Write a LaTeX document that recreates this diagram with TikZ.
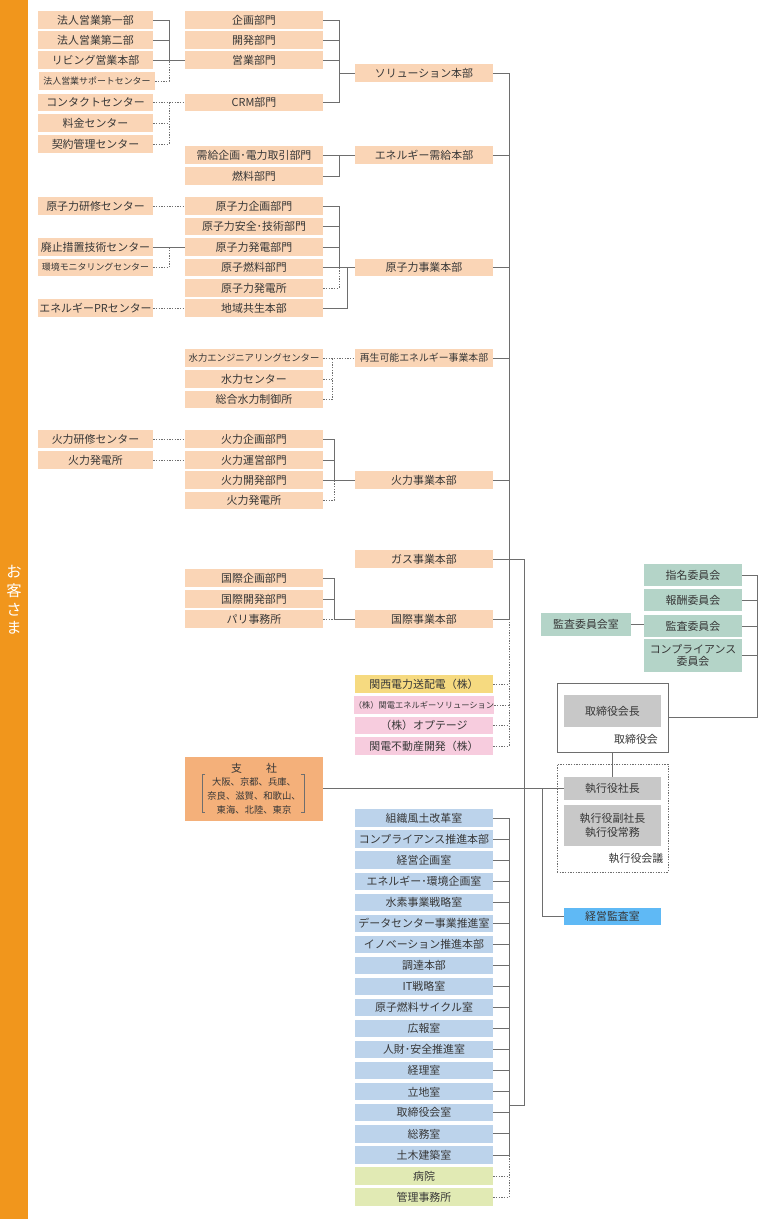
\documentclass[tikz,border=0pt]{standalone}
\usepackage{fontspec}
\setmainfont{Noto Sans CJK JP}
\usetikzlibrary{calc}
\definecolor{peach}{RGB}{250,213,182}
\definecolor{barorange}{RGB}{241,150,28}
\definecolor{branch}{RGB}{244,176,122}
\definecolor{staffblue}{RGB}{188,211,235}
\definecolor{hospgreen}{RGB}{225,234,180}
\definecolor{cmtgreen}{RGB}{180,212,200}
\definecolor{execgray}{RGB}{200,200,200}
\definecolor{auditblue}{RGB}{95,185,245}
\definecolor{subyellow}{RGB}{246,218,128}
\definecolor{subpink}{RGB}{247,204,222}
\definecolor{linegray}{RGB}{110,110,110}
\definecolor{textgray}{RGB}{55,55,55}

\begin{document}
\begin{tikzpicture}[x=0.75pt,y=-0.75pt]
	\tikzstyle{every node}=[inner sep=0pt, text=textgray, font=\fontsize{8.2}{10}\selectfont]
	\tikzstyle{sidebox}=[fill=peach, minimum width=86.25pt, minimum height=13pt]
	\tikzstyle{deptbox}=[fill=peach, minimum width=103.5pt, minimum height=13pt]
	\tikzstyle{staffbox}=[deptbox, fill=staffblue]
	\tikzstyle{hospbox}=[deptbox, fill=hospgreen]
	\tikzstyle{subbox}=[deptbox, fill=subpink]
	\tikzstyle{cmtbox}=[fill=cmtgreen, minimum width=73.5pt, minimum height=16.5pt]
	\tikzstyle{execbox}=[fill=execgray, minimum width=72.75pt, minimum height=17.25pt]
	\tikzstyle{smalltext}=[font=\fontsize{6.7}{8}\selectfont]
	\tikzstyle{conn}=[draw=linegray, line width=0.65pt]
	\tikzstyle{dotconn}=[draw=linegray, line width=0.5pt, dash pattern=on 1pt off 1pt]
	\useasboundingbox (0,0) rectangle (758,1219);
	\fill[barorange] (0,0) rectangle (28,1219);
	\node[text=white, align=center, font=\fontsize{11.5}{14}\selectfont] (okyaku) at (14,600) {お\\客\\さ\\ま};

	\node[sidebox] (houjin1) at (95.5,20) {法人営業第一部};
	\node[sidebox] (houjin2) at (95.5,40) {法人営業第二部};
	\node[sidebox] (living) at (95.5,60) {リビング営業本部};
	\node[sidebox, smalltext, minimum width=87pt] (hsupport) at (97,81) {法人営業サポートセンター};
	\node[sidebox] (contact) at (95.5,102.5) {コンタクトセンター};
	\node[sidebox] (ryokin) at (95.5,123) {料金センター};
	\node[sidebox] (keiyaku) at (95.5,144) {契約管理センター};
	\node[sidebox] (gkenshu) at (95.5,206) {原子力研修センター};
	\node[sidebox] (haishi) at (95.5,247) {廃止措置技術センター};
	\node[sidebox, smalltext] (kankyo) at (95.5,267.5) {環境モニタリングセンター};
	\node[sidebox] (energypr) at (95.5,308) {エネルギーPRセンター};
	\node[sidebox] (kkenshu) at (95.5,439) {火力研修センター};
	\node[sidebox] (kplant) at (95.5,460) {火力発電所};

	\node[deptbox] (kikaku) at (254,20) {企画部門};
	\node[deptbox] (kaihatsu) at (254,40) {開発部門};
	\node[deptbox] (eigyo) at (254,60) {営業部門};
	\node[deptbox] (crm) at (254,102.5) {CRM部門};
	\node[deptbox] (jukyu) at (254,155) {需給企画･電力取引部門};
	\node[deptbox] (nenryo) at (254,176) {燃料部門};
	\node[deptbox] (gkikaku) at (254,206) {原子力企画部門};
	\node[deptbox] (ganzen) at (254,226.5) {原子力安全･技術部門};
	\node[deptbox] (ghatsuden) at (254,247) {原子力発電部門};
	\node[deptbox] (gnenryo) at (254,267.5) {原子燃料部門};
	\node[deptbox] (gplant) at (254,288) {原子力発電所};
	\node[deptbox] (chiiki) at (254,308) {地域共生本部};
	\node[deptbox, font=\fontsize{7}{8}\selectfont] (suiryoku1) at (254,358) {水力エンジニアリングセンター};
	\node[deptbox] (suiryoku2) at (254,379) {水力センター};
	\node[deptbox] (suiryoku3) at (254,399.5) {総合水力制御所};
	\node[deptbox] (karyoku1) at (254,439) {火力企画部門};
	\node[deptbox] (karyoku2) at (254,460) {火力運営部門};
	\node[deptbox] (karyoku3) at (254,480) {火力開発部門};
	\node[deptbox] (karyoku4) at (254,500.5) {火力発電所};
	\node[deptbox] (kokusai1) at (254,578) {国際企画部門};
	\node[deptbox] (kokusai2) at (254,599) {国際開発部門};
	\node[deptbox] (paris) at (254,619) {パリ事務所};
	\node[deptbox, fill=branch, minimum height=48pt, align=center, font=\fontsize{7}{10.3}\selectfont] (shisha) at (254,788.5) {{\fontsize{8.2}{10}\selectfont 支\hspace{2.2em}社}\\大阪、京都、兵庫、\\奈良、滋賀、和歌山、\\東海、北陸、東京};
	\draw[linegray, line width=0.4pt] (205,774) -- (202,774) -- (202,812) -- (205,812);
	\draw[linegray, line width=0.4pt] (301,774) -- (304,774) -- (304,812) -- (301,812);

	\node[deptbox] (solution) at (424,73) {ソリューション本部};
	\node[deptbox] (energy) at (424,155) {エネルギー需給本部};
	\node[deptbox] (genshi) at (424,267.5) {原子力事業本部};
	\node[deptbox, font=\fontsize{7.4}{8}\selectfont] (saisei) at (424,358) {再生可能エネルギー事業本部};
	\node[deptbox] (karyoku) at (424,480) {火力事業本部};
	\node[deptbox] (gas) at (424,559) {ガス事業本部};
	\node[deptbox] (kokusai) at (424,619) {国際事業本部};
	\node[subbox, fill=subyellow] (souhaiden) at (424,684) {関西電力送配電（株）};
	\node[subbox, font=\fontsize{6.2}{8}\selectfont] (kes) at (424,705) {（株）関電エネルギーソリューション};
	\node[subbox] (optage) at (424,725.5) {（株）オプテージ};
	\node[subbox] (fudosan) at (424,746) {関電不動産開発（株）};

	\node[staffbox] (soshiki) at (424,818) {組織風土改革室};
	\node[staffbox] (compsuishin) at (424,839.1) {コンプライアンス推進本部};
	\node[staffbox] (keiei) at (424,860.1) {経営企画室};
	\node[staffbox] (kankyokikaku) at (424,881.2) {エネルギー･環境企画室};
	\node[staffbox] (suiso) at (424,902.2) {水素事業戦略室};
	\node[staffbox] (datacenter) at (424,923.3) {データセンター事業推進室};
	\node[staffbox] (innovation) at (424,944.4) {イノベーション推進本部};
	\node[staffbox] (chotatsu) at (424,965.4) {調達本部};
	\node[staffbox] (itsenryaku) at (424,986.5) {IT戦略室};
	\node[staffbox] (cycle) at (424,1007.5) {原子燃料サイクル室};
	\node[staffbox] (koho) at (424,1028.6) {広報室};
	\node[staffbox] (jinzai) at (424,1049.7) {人財･安全推進室};
	\node[staffbox] (keiri) at (424,1070.7) {経理室};
	\node[staffbox] (ritchi) at (424,1091.8) {立地室};
	\node[staffbox] (torishitsu) at (424,1112.8) {取締役会室};
	\node[staffbox] (somu) at (424,1133.9) {総務室};
	\node[staffbox] (doboku) at (424,1155) {土木建築室};
	\node[hospbox] (byoin) at (424,1176) {病院};
	\node[hospbox] (kanri) at (424,1197) {管理事務所};

	\node[cmtbox, minimum width=67.5pt, minimum height=17.25pt] (iinkaishitsu) at (586,624.5) {監査委員会室};
	\node[cmtbox] (shimei) at (693,575) {指名委員会};
	\node[cmtbox] (hoshu) at (693,600) {報酬委員会};
	\node[cmtbox] (kansa) at (693,626) {監査委員会};
	\node[cmtbox, minimum height=24.75pt, align=center, font=\fontsize{8.2}{9}\selectfont] (compliance) at (693,655.5) {コンプライアンス\\委員会};
	\node[draw=linegray, line width=0.6pt, minimum width=83.25pt, minimum height=51.75pt] (board) at (612.5,717.5) {};
	\node[execbox, minimum height=24pt] (kaicho) at (612.5,711) {取締役会長};
	\node (boardlabel) at (636,739) {取締役会};
	\node[draw=linegray, line width=0.5pt, dash pattern=on 1pt off 1pt, minimum width=83.25pt, minimum height=81pt] (execmeeting) at (612.5,818) {};
	\node[execbox] (shacho) at (612.5,788.5) {執行役社長};
	\node[execbox, minimum height=30.75pt, align=center, font=\fontsize{8.2}{11}\selectfont] (fukushacho) at (612.5,825.5) {執行役副社長\\執行役常務};
	\node (execlabel) at (636,858) {執行役会議};
	\node[execbox, fill=auditblue, minimum height=13pt] (kansashitsu) at (612.5,916.5) {経営監査室};

	\coordinate (hj) at (169,60);
	\coordinate (ct) at (169,102.5);
	\coordinate (hs) at (169,247);
	\coordinate (sol) at (339,73);
	\coordinate (en) at (339,155);
	\coordinate (gn) at (339,267.5);
	\coordinate (gc) at (347,267.5);
	\coordinate (sr) at (332,358);
	\coordinate (kr) at (334,480);
	\coordinate (kk) at (334,619);
	\coordinate (trunktop) at (509,73);
	\coordinate (trunkmid) at (509,619);
	\coordinate (execbot) at (524,1105);
	\coordinate (staffjoin) at (509,1105);
	\coordinate (cb) at (757,575);
	\coordinate (ka) at (542,788.5);

	\draw[conn] (houjin1.east) -| (hj) -- (eigyo.west);
	\draw[conn] (houjin2.east) -- (houjin2.east -| hj);
	\draw[conn] (living.east) -- (hj);
	\draw[dotconn] (hsupport.east) -| (hj);
	\draw[dotconn] (contact.east) -- (crm.west);
	\draw[dotconn] (keiyaku.east) -| (ct);
	\draw[dotconn] (ryokin.east) -- (ryokin.east -| ct);
	\draw[dotconn] (gkenshu.east) -- (gkikaku.west);
	\draw[conn] (haishi.east) -- (ghatsuden.west);
	\draw[dotconn] (kankyo.east) -| (hs);
	\draw[dotconn] (energypr.east) -- (chiiki.west);
	\draw[dotconn] (kkenshu.east) -- (karyoku1.west);
	\draw[dotconn] (kplant.east) -- (karyoku2.west);

	\draw[conn] (kikaku.east) -| (sol) -- (solution.west);
	\draw[conn] (kaihatsu.east) -- (kaihatsu.east -| sol);
	\draw[conn] (eigyo.east) -- (eigyo.east -| sol);
	\draw[conn] (crm.east) -| (sol);
	\draw[conn] (jukyu.east) -- (energy.west);
	\draw[conn] (nenryo.east) -| (en);
	\draw[conn] (gkikaku.east) -| (gn);
	\draw[conn] (ganzen.east) -- (ganzen.east -| gn);
	\draw[conn] (ghatsuden.east) -- (ghatsuden.east -| gn);
	\draw[conn] (gnenryo.east) -- (genshi.west);
	\draw[dotconn] (gplant.east) -| (gn);
	\draw[conn] (chiiki.east) -| (gc);
	\draw[dotconn] (suiryoku1.east) -- (saisei.west);
	\draw[dotconn] (suiryoku2.east) -- (suiryoku2.east -| sr);
	\draw[dotconn] (suiryoku3.east) -| (sr);
	\draw[conn] (karyoku1.east) -| (kr);
	\draw[conn] (karyoku2.east) -- (karyoku2.east -| kr);
	\draw[conn] (karyoku3.east) -- (karyoku.west);
	\draw[dotconn] (karyoku4.east) -| (kr);
	\draw[conn] (kokusai1.east) -| (kk) -- (kokusai.west);
	\draw[conn] (kokusai2.east) -- (kokusai2.east -| kk);
	\draw[dotconn] (paris.east) -- (kk);

	\draw[conn] (solution.east) -- (trunktop) -- (trunkmid) -- (kokusai.east);
	\draw[conn] (energy.east) -- (energy.east -| trunktop);
	\draw[conn] (genshi.east) -- (genshi.east -| trunktop);
	\draw[conn] (saisei.east) -- (saisei.east -| trunktop);
	\draw[conn] (karyoku.east) -- (karyoku.east -| trunktop);
	\draw[dotconn] (fudosan.east) -| (trunkmid);
	\draw[dotconn] (souhaiden.east) -- (souhaiden.east -| trunkmid);
	\draw[dotconn] (kes.east) -- (kes.east -| trunkmid);
	\draw[dotconn] (optage.east) -- (optage.east -| trunkmid);
	\draw[conn] (gas.east) -| (execbot) -- (staffjoin);

	\draw[conn] (soshiki.east) -- ++(16,0) |- (doboku.east);
	\draw[conn] (compsuishin.east) -- ++(16,0);
	\draw[conn] (keiei.east) -- ++(16,0);
	\draw[conn] (kankyokikaku.east) -- ++(16,0);
	\draw[conn] (suiso.east) -- ++(16,0);
	\draw[conn] (datacenter.east) -- ++(16,0);
	\draw[conn] (innovation.east) -- ++(16,0);
	\draw[conn] (chotatsu.east) -- ++(16,0);
	\draw[conn] (itsenryaku.east) -- ++(16,0);
	\draw[conn] (cycle.east) -- ++(16,0);
	\draw[conn] (koho.east) -- ++(16,0);
	\draw[conn] (jinzai.east) -- ++(16,0);
	\draw[conn] (keiri.east) -- ++(16,0);
	\draw[conn] (ritchi.east) -- ++(16,0);
	\draw[conn] (torishitsu.east) -- ++(16,0);
	\draw[conn] (somu.east) -- ++(16,0);
	\draw[dotconn] (kanri.east) -- ++(16,0) |- (doboku.east);
	\draw[dotconn] (byoin.east) -- ++(16,0);

	\draw[conn] (shisha.east) -- (shacho.west);
	\draw[conn] (ka) |- (kansashitsu.west);
	\draw[conn] (board.south) -- (shacho.north);
	\draw[conn] (iinkaishitsu.east) -- (iinkaishitsu.east -| kansa.west);
	\draw[conn] (board.east) -| (cb) -- (shimei.east);
	\draw[conn] (hoshu.east) -- (hoshu.east -| cb);
	\draw[conn] (kansa.east) -- (kansa.east -| cb);
	\draw[conn] (compliance.east) -- (compliance.east -| cb);
\end{tikzpicture}
\end{document}
